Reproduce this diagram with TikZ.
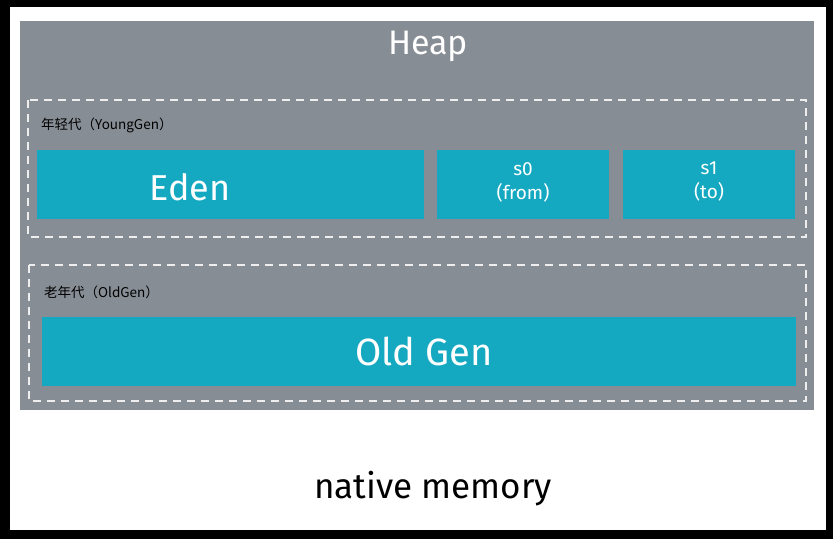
\documentclass[tikz,border=0pt]{standalone}
\usepackage{fontspec}
\setmainfont{Fira Sans}
\newfontfamily\cjk{Noto Sans CJK SC}
\definecolor{heapgray}{HTML}{878D95}
\definecolor{boxcyan}{HTML}{15A9C1}
\definecolor{dashc}{HTML}{EEEEEE}
\begin{document}
\begin{tikzpicture}[x=1pt,y=-1pt,
  region/.style={fill=boxcyan,draw=none},
  genframe/.style={draw=dashc,line width=1.6pt,dash pattern=on 8pt off 6pt},
  boxtext/.style={text=white,align=center},
  gentext/.style={anchor=west,font=\cjk\fontsize{13.5}{16}\selectfont,inner sep=0pt}]
\fill[black] (0,0) rectangle (833,539);
\useasboundingbox (0,0) rectangle (833,539);
\fill[white] (10,7) rectangle (826,530);
\fill[heapgray] (20,21) rectangle (814,410);
\node[text=white,font=\fontsize{34}{38}\selectfont] (heap) at (428,46) {Heap};
% young gen
\draw[genframe] (28,100) rectangle (806,237);
\node[gentext] (ylab) at (41,125) {年轻代（YoungGen）};
\path[region] (37,150) rectangle (424,219);
\node[boxtext,font=\fontsize{36}{40}\selectfont] (eden) at (190,187) {Eden};
\path[region] (437,150) rectangle (609,219);
\node[boxtext,font=\fontsize{19}{24}\selectfont] (s0) at (523,182) {s0\\(from)};
\path[region] (623,150) rectangle (795,219);
\node[boxtext,font=\fontsize{19}{24}\selectfont] (s1) at (709,182) {s1\\(to)};
% old gen
\draw[genframe] (29,265) rectangle (806,401);
\node[gentext] (olab) at (44,292) {老年代（OldGen）};
\path[region] (42,317) rectangle (796,386);
\node[boxtext,font=\fontsize{38}{42}\selectfont] (old) at (424,351) {Old Gen};
\node[font=\fontsize{35}{40}\selectfont] (native) at (433,489) {native memory};
\end{tikzpicture}
\end{document}
